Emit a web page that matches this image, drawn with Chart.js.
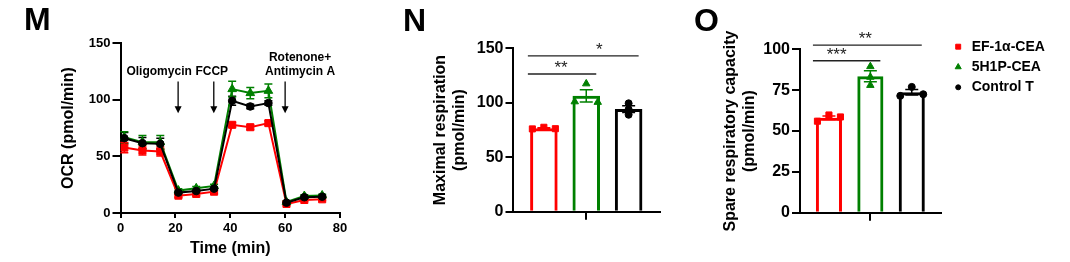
<!DOCTYPE html>
<html>
<head>
<meta charset="utf-8">
<script src="https://cdn.jsdelivr.net/npm/chart.js@4.4.1/dist/chart.umd.min.js"></script>
<style>
  html, body { margin: 0; padding: 0; background: #fff; }
  #wrap { position: relative; width: 1070px; height: 262px; overflow: hidden; }
  canvas { position: absolute; top: 0; }
</style>
</head>
<body>
<div id="wrap">
  <canvas id="chartM" width="360" height="262" style="left:0px"></canvas>
  <canvas id="chartN" width="330" height="262" style="left:360px"></canvas>
  <canvas id="chartO" width="380" height="262" style="left:690px"></canvas>
</div>
<script>
// groups
const groups = ['EF-1α-CEA', '5H1P-CEA', 'Control T'];
const groupColors = ['#ff0000', '#008000', '#000000'];
const groupMarkers = ['rect', 'triangle', 'circle'];

// panel M: OCR time course (mean, sem)
const timeMin = [1.4, 8.0, 14.5, 21.1, 27.6, 34.1, 40.7, 47.3, 53.9, 60.5, 67.0, 73.5];
const ocrEF = [57.7, 55.1, 54.2, 15.3, 16.8, 18.8, 77.8, 75.7, 79.3, 8.0, 11.5, 12.1];
const ocrEFsem = [4.5, 4, 4, 1.5, 1.5, 1.5, 2, 2, 2, 1, 1, 1];
const ocr5H1P = [66.8, 62.4, 62.4, 19.8, 21.8, 23.9, 109.3, 105.8, 107.8, 9.7, 15.0, 15.5];
const ocr5H1Psem = [5, 6, 6, 1.5, 1.5, 1.5, 7, 5, 6, 1, 1, 1];
const ocrCtrl = [66.0, 61.6, 61.0, 18.0, 19.4, 21.5, 99.0, 94.0, 97.0, 9.1, 13.9, 14.4];
const ocrCtrlSem = [5, 5, 5, 1.5, 1.5, 1.5, 4, 2, 2, 1, 1, 1];
const injectionTimes = [21, 34, 60];
const injectionLabels = [['Oligomycin'], ['FCCP'], ['Rotenone+', 'Antimycin A']];

// panel N: maximal respiration replicates
const maxRespEF = [76.0, 77.5, 76.2];
const maxResp5H1P = [117.5, 101.0, 100.5];
const maxRespCtrl = [99.5, 94.0, 89.0];
const maxRespStars = ['*', '**'];
const maxRespPairs = [[0, 2], [0, 1]];

// panel O: spare respiratory capacity replicates
const spareEF = [56.0, 59.8, 58.6];
const spare5H1P = [89.5, 83.0, 78.0];
const spareCtrl = [77.0, 71.5, 72.5];
const spareStars = ['**', '***'];
const sparePairs = [[0, 2], [0, 1]];

const FAMILY = "'Liberation Sans', Arial, sans-serif";
Chart.defaults.font.family = FAMILY;
Chart.defaults.color = '#000';

function mean(a) { return a.reduce((s, v) => s + v, 0) / a.length; }
function sem(a) {
  const m = mean(a);
  const sd = Math.sqrt(a.reduce((s, v) => s + (v - m) * (v - m), 0) / (a.length - 1));
  return sd / Math.sqrt(a.length);
}

function mark(ctx, style, x, y, r, color) {
  ctx.save();
  ctx.fillStyle = color;
  ctx.strokeStyle = color;
  Chart.helpers.drawPoint(ctx, {pointStyle: style, radius: r, borderWidth: 1, rotation: 0}, x, y);
  ctx.restore();
}

function fixAxis(w, h) {
  return function (s) {
    if (w !== null) s.width = w;
    if (h !== null) s.height = h;
    s.paddingLeft = 0; s.paddingRight = 0; s.paddingTop = 0; s.paddingBottom = 0;
  };
}

// ---------- M ----------
const errorBarsM = {
  id: 'errorBarsM',
  beforeDatasetsDraw(chart) {
    const {ctx, scales: {x, y}} = chart;
    chart.data.datasets.forEach(ds => {
      ctx.save();
      ctx.strokeStyle = ds.borderColor;
      ctx.lineWidth = 1.5;
      ds.data.forEach((p, i) => {
        const px = x.getPixelForValue(p.x);
        const t = y.getPixelForValue(p.y + ds.sem[i]);
        const b = y.getPixelForValue(p.y - ds.sem[i]);
        ctx.beginPath();
        ctx.moveTo(px, t); ctx.lineTo(px, b);
        ctx.moveTo(px - 4, t); ctx.lineTo(px + 4, t);
        ctx.moveTo(px - 4, b); ctx.lineTo(px + 4, b);
        ctx.stroke();
      });
      ctx.restore();
    });
  }
};

const injections = {
  id: 'injections',
  afterDatasetsDraw(chart, args, opts) {
    const {ctx, scales: {x, y}} = chart;
    ctx.save();
    ctx.strokeStyle = '#000';
    ctx.fillStyle = '#000';
    ctx.lineWidth = 1.3;
    ctx.font = 'bold 12px ' + FAMILY;
    ctx.textAlign = 'center';
    ctx.textBaseline = 'middle';
    injectionTimes.forEach((t, i) => {
      const px = x.getPixelForValue(t);
      const top = y.getPixelForValue(opts.arrowTop);
      const tip = y.getPixelForValue(opts.arrowTip);
      ctx.beginPath();
      ctx.moveTo(px, top); ctx.lineTo(px, tip - 6);
      ctx.stroke();
      ctx.beginPath();
      ctx.moveTo(px - 3.5, tip - 7); ctx.lineTo(px + 3.5, tip - 7); ctx.lineTo(px, tip);
      ctx.closePath(); ctx.fill();
      const lines = injectionLabels[i];
      const ly = y.getPixelForValue(opts.labelY);
      lines.forEach((txt, k) => {
        ctx.fillText(txt, px + opts.labelDx[i], ly - (lines.length - 1 - k) * 14);
      });
    });
    ctx.restore();
  }
};

function series(vals, errs, k) {
  return {
    label: groups[k],
    data: timeMin.map((t, i) => ({x: t, y: vals[i]})),
    sem: errs,
    borderColor: groupColors[k],
    backgroundColor: groupColors[k],
    borderWidth: 2,
    pointStyle: groupMarkers[k],
    pointRadius: k === 2 ? 3.8 : 5,
    pointBorderWidth: 1,
    tension: 0
  };
}

new Chart(document.getElementById('chartM'), {
  type: 'line',
  data: {
    datasets: [
      series(ocrCtrl, ocrCtrlSem, 2),
      series(ocr5H1P, ocr5H1Psem, 1),
      series(ocrEF, ocrEFsem, 0)
    ]
  },
  options: {
    responsive: false, animation: false, devicePixelRatio: 1, events: [],
    layout: {padding: {left: 24, right: 20, top: 0, bottom: 0}},
    plugins: {
      legend: {display: false}, tooltip: {enabled: false},
      title: {display: true, text: 'M', align: 'start', color: '#000',
        font: {size: 32, weight: 'bold', lineHeight: 1}, padding: {top: 5, bottom: 6}},
      injections: {arrowTop: 116, arrowTip: 88, labelY: 125, labelDx: [-19, -2, 15]}
    },
    scales: {
      x: {
        type: 'linear', min: 0, max: 80,
        ticks: {stepSize: 20, padding: 3, font: {size: 13, weight: 'bold'}, color: '#000'},
        grid: {display: true, drawOnChartArea: false, drawTicks: true, tickLength: 5, color: '#000', lineWidth: 2},
        border: {display: true, color: '#000', width: 2},
        title: {display: true, text: 'Time (min)', color: '#000', font: {size: 16, weight: 'bold', lineHeight: 1.2}, padding: {top: 0, bottom: 3.4}},
        afterFit: fixAxis(null, 49)
      },
      y: {
        min: 0, max: 150,
        ticks: {stepSize: 50, padding: 2, font: {size: 13, weight: 'bold'}, color: '#000'},
        grid: {display: true, drawOnChartArea: false, drawTicks: true, tickLength: 8, color: '#000', lineWidth: 2},
        border: {display: true, color: '#000', width: 2},
        title: {display: true, text: 'OCR (pmol/min)', color: '#000', font: {size: 16, weight: 'bold', lineHeight: 1.2}, padding: {top: 35.4, bottom: 0}},
        afterFit: fixAxis(96.5, null)
      }
    }
  },
  plugins: [errorBarsM, injections]
});

// ---------- N / O ----------
const barExtras = {
  id: 'barExtras',
  afterDatasetsDraw(chart, args, opts) {
    const {ctx, scales: {y}} = chart;
    const bars = chart.data.datasets.map((ds, k) => chart.getDatasetMeta(k).data[0]);
    // error bars and replicate points
    chart.data.datasets.forEach((ds, k) => {
      const bx = bars[k].x;
      const m = mean(ds.reps), e = sem(ds.reps);
      const t = y.getPixelForValue(m + e), b = y.getPixelForValue(m - e);
      ctx.save();
      ctx.strokeStyle = groupColors[k];
      ctx.lineWidth = 1.5;
      ctx.beginPath();
      ctx.moveTo(bx, t); ctx.lineTo(bx, b);
      ctx.moveTo(bx - 6.5, t); ctx.lineTo(bx + 6.5, t);
      ctx.moveTo(bx - 6.5, b); ctx.lineTo(bx + 6.5, b);
      ctx.stroke();
      ctx.restore();
      // spread points that overlap
      const px = ds.reps.map(v => y.getPixelForValue(v));
      const order = ds.reps.map((v, i) => i).sort((a, c) => px[a] - px[c]);
      const clusters = [];
      let cur = [order[0]];
      for (let j = 1; j < order.length; j++) {
        if (px[order[j]] - px[order[j - 1]] < 5) cur.push(order[j]);
        else { clusters.push(cur); cur = [order[j]]; }
      }
      clusters.push(cur);
      const dx = [];
      clusters.forEach(g => {
        if (g.length === 1) { dx[g[0]] = 0; return; }
        g.slice().sort((a, c) => a - c).forEach((idx, j, arr) => {
          dx[idx] = -11.5 + 23 * j / (arr.length - 1);
        });
      });
      ds.reps.forEach((v, i) => {
        mark(ctx, groupMarkers[k], bx + dx[i], px[i], k === 2 ? 3.5 : 4.3, groupColors[k]);
      });
    });
    // significance brackets
    ctx.save();
    ctx.strokeStyle = '#222';
    ctx.fillStyle = '#222';
    ctx.lineWidth = 1.3;
    ctx.font = '17px ' + FAMILY;
    ctx.textAlign = 'center';
    ctx.textBaseline = 'alphabetic';
    opts.pairs.forEach((pr, i) => {
      const x1 = bars[pr[0]].x - 16, x2 = bars[pr[1]].x + 10;
      const ly = y.getPixelForValue(opts.heights[i]);
      ctx.beginPath();
      ctx.moveTo(x1, ly); ctx.lineTo(x2, ly);
      ctx.stroke();
      ctx.fillText(opts.stars[i], (x1 + x2) / 2 + opts.starDx[i], ly - 1);
    });
    ctx.restore();
  }
};

const legendO = {
  id: 'legendO',
  afterDraw(chart) {
    if (!chart.options.plugins.legendO) return;
    const {ctx, chartArea} = chart;
    ctx.save();
    ctx.font = 'bold 14px ' + FAMILY;
    ctx.textBaseline = 'middle';
    ctx.textAlign = 'left';
    ctx.fillStyle = '#000';
    groups.forEach((g, i) => {
      const yy = chartArea.top - 2.6 + i * 20.3;
      mark(ctx, groupMarkers[i], chartArea.right + 17.5, yy, i === 2 ? 2.5 : 3.5, groupColors[i]);
      ctx.fillStyle = '#000';
      ctx.fillText(g, chartArea.right + 31, yy);
    });
    ctx.restore();
  }
};

function barPanel(id, letter, reps, yMax, yStep, yTitle, stars, pairs, heights, lay) {
  return new Chart(document.getElementById(id), {
    type: 'bar',
    data: {
      labels: [''],
      datasets: reps.map((r, k) => ({
        label: groups[k],
        data: [mean(r)],
        reps: r,
        backgroundColor: 'rgba(255,255,255,0)',
        borderColor: groupColors[k],
        borderWidth: 3,
        categoryPercentage: lay.cat,
        barPercentage: lay.bar
      }))
    },
    options: {
      responsive: false, animation: false, devicePixelRatio: 1, events: [],
      layout: {padding: {left: lay.padL, right: lay.padR, top: 0, bottom: 0}},
      plugins: {
        legend: {display: false}, tooltip: {enabled: false},
        title: {display: true, text: letter, align: 'start', color: '#000',
          font: {size: 32, weight: 'bold', lineHeight: 1}, padding: lay.titlePad},
        barExtras: {stars: stars, pairs: pairs, heights: heights, starDx: lay.starDx},
        legendO: lay.legend
      },
      scales: {
        x: {
          offset: true,
          ticks: {display: true, padding: 2, font: {size: 16, weight: 'bold'}},
          grid: {display: true, offset: false, drawOnChartArea: false, drawTicks: true, tickLength: 8, color: '#000', lineWidth: 2},
          border: {display: true, color: '#000', width: 2},
          afterFit: fixAxis(null, lay.xH)
        },
        y: {
          min: 0, max: yMax,
          ticks: {stepSize: yStep, padding: 2, font: {size: 16, weight: 'bold'}, color: '#000'},
          grid: {display: true, drawOnChartArea: false, drawTicks: true, tickLength: lay.tick, color: '#000', lineWidth: 2},
          border: {display: true, color: '#000', width: 2},
          title: {display: true, text: yTitle, color: '#000', font: {size: 16, weight: 'bold', lineHeight: 1.15}, padding: {top: lay.yTitlePad, bottom: 0}},
          afterFit: fixAxis(lay.yW, null)
        }
      }
    },
    plugins: [barExtras, legendO]
  });
}

barPanel('chartN', 'N', [maxRespEF, maxResp5H1P, maxRespCtrl], 150, 50,
  ['Maximal respiration', '(pmol/min)'], maxRespStars, maxRespPairs, [143, 126.4],
  {padL: 43, padR: 30, yW: 109.5, xH: 50.3, tick: 7, cat: 0.862, bar: 0.65, starDx: [16, -1],
   titlePad: {top: 6.5, bottom: 9.8}, yTitlePad: 28.5, legend: false});

barPanel('chartO', 'O', [spareEF, spare5H1P, spareCtrl], 100, 25,
  ['Spare respiratory capacity', '(pmol/min)'], spareStars, sparePairs, [102.6, 93],
  {padL: 4, padR: 129.3, yW: 106, xH: 49.3, tick: 8, cat: 0.883, bar: 0.63, starDx: [-2, -10],
   titlePad: {top: 5.7, bottom: 11.6}, yTitlePad: 27.5, legend: true});
</script>
</body>
</html>
